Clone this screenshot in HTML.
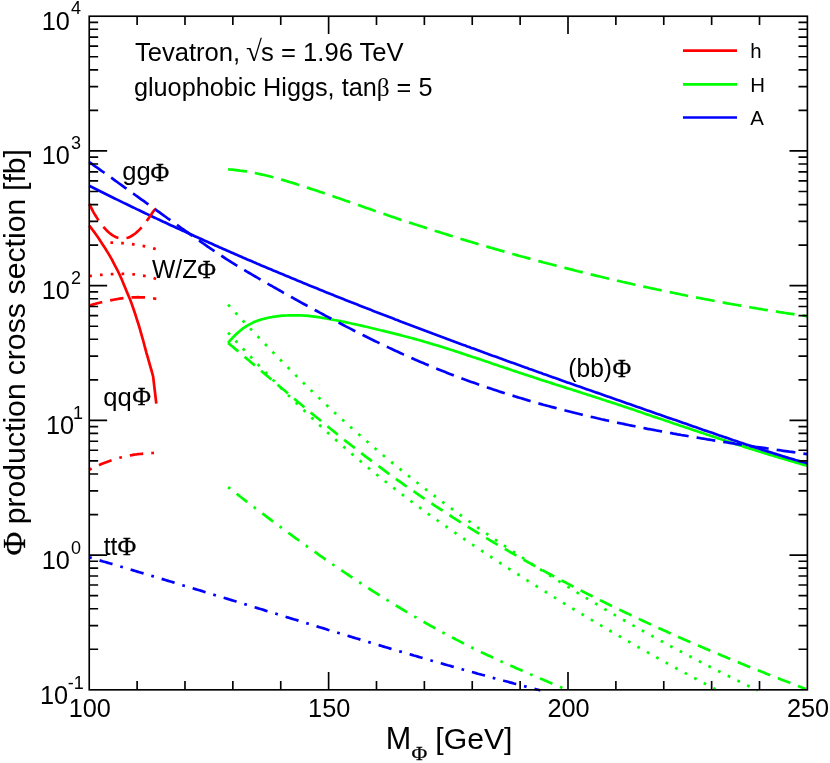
<!DOCTYPE html>
<html><head><meta charset="utf-8"><title>plot</title>
<style>html,body{margin:0;padding:0;background:#fff;}svg{display:block;will-change:transform;}</style>
</head><body>
<svg width="830" height="763" viewBox="0 0 830 763">
<rect x="0" y="0" width="830" height="763" fill="#ffffff"/>
<g fill="none" stroke-width="2.7" stroke-linejoin="miter">
<path d="M89.2,225.6 L90.9,227.6 L92.5,229.7 L94.1,231.9 L95.8,234.2 L97.4,236.5 L99.1,238.9 L100.7,241.4 L102.3,243.9 L104.0,246.5 L105.6,249.0 L107.2,251.6 L108.9,254.4 L110.5,257.2 L112.2,260.2 L113.8,263.3 L115.4,266.4 L117.1,269.5 L118.7,272.8 L120.3,276.3 L122.0,280.0 L123.6,283.9 L125.3,288.0 L126.9,291.9 L128.5,295.8 L130.2,299.8 L131.8,304.1 L133.4,308.8 L135.1,313.7 L136.7,318.8 L138.4,324.0 L140.0,329.4 L141.6,335.1 L143.3,341.0 L144.9,347.1 L146.5,353.1 L148.2,358.9 L149.8,364.7 L151.5,370.5 L153.1,376.4 L154.6,389.0 L156.3,403.6" stroke="#ff0000"/>
<path d="M228.1,342.9 L230.1,340.5 L232.1,338.3 L234.1,336.2 L236.1,334.2 L238.1,332.4 L240.1,330.7 L242.1,329.1 L244.1,327.7 L246.1,326.4 L248.1,325.2 L250.1,324.1 L252.1,323.1 L254.1,322.1 L256.1,321.3 L258.1,320.6 L260.1,319.9 L262.1,319.3 L264.2,318.7 L266.2,318.2 L268.2,317.7 L270.2,317.3 L272.2,317.0 L274.2,316.6 L276.2,316.4 L278.2,316.1 L280.2,315.9 L282.2,315.7 L284.2,315.6 L286.2,315.5 L288.2,315.4 L290.2,315.4 L292.2,315.3 L294.2,315.3 L296.2,315.3 L298.2,315.4 L300.2,315.4 L302.2,315.5 L304.2,315.6 L306.2,315.7 L308.3,315.9 L310.3,316.1 L312.3,316.3 L314.3,316.6 L316.3,316.9 L318.3,317.2 L320.3,317.5 L322.3,317.8 L324.3,318.2 L326.3,318.5 L328.3,318.9 L330.3,319.2 L332.3,319.6 L334.3,320.0 L336.3,320.3 L338.3,320.7 L340.3,321.1 L342.3,321.5 L344.3,321.9 L346.3,322.4 L348.3,322.8 L350.4,323.2 L352.4,323.7 L354.4,324.1 L356.4,324.5 L358.4,325.0 L360.4,325.4 L362.4,325.9 L364.4,326.4 L366.4,326.8 L368.4,327.3 L370.4,327.8 L372.4,328.2 L374.4,328.7 L376.4,329.2 L378.4,329.7 L380.4,330.2 L382.4,330.6 L384.4,331.1 L386.4,331.6 L388.4,332.1 L390.4,332.6 L392.4,333.1 L394.5,333.6 L396.5,334.1 L398.5,334.6 L400.5,335.1 L402.5,335.7 L404.5,336.2 L406.5,336.7 L408.5,337.2 L410.5,337.8 L412.5,338.3 L414.5,338.9 L416.5,339.4 L418.5,340.0 L420.5,340.5 L422.5,341.1 L424.5,341.7 L426.5,342.3 L428.5,342.9 L430.5,343.5 L432.5,344.1 L434.5,344.7 L436.5,345.3 L438.6,345.9 L440.6,346.5 L442.6,347.1 L444.6,347.8 L446.6,348.4 L448.6,349.0 L450.6,349.7 L452.6,350.3 L454.6,351.0 L456.6,351.6 L458.6,352.3 L460.6,352.9 L462.6,353.6 L464.6,354.2 L466.6,354.9 L468.6,355.6 L470.6,356.2 L472.6,356.9 L474.6,357.6 L476.6,358.3 L478.6,358.9 L480.6,359.6 L482.7,360.3 L484.7,361.0 L486.7,361.6 L488.7,362.3 L490.7,363.0 L492.7,363.7 L494.7,364.4 L496.7,365.0 L498.7,365.7 L500.7,366.4 L502.7,367.1 L504.7,367.8 L506.7,368.4 L508.7,369.1 L510.7,369.8 L512.7,370.5 L514.7,371.1 L516.7,371.8 L518.7,372.5 L520.7,373.1 L522.7,373.8 L524.8,374.5 L526.8,375.1 L528.8,375.8 L530.8,376.4 L532.8,377.1 L534.8,377.8 L536.8,378.4 L538.8,379.1 L540.8,379.7 L542.8,380.4 L544.8,381.0 L546.8,381.6 L548.8,382.3 L550.8,382.9 L552.8,383.6 L554.8,384.2 L556.8,384.9 L558.8,385.5 L560.8,386.1 L562.8,386.8 L564.8,387.4 L566.8,388.1 L568.9,388.7 L570.9,389.3 L572.9,390.0 L574.9,390.6 L576.9,391.3 L578.9,391.9 L580.9,392.5 L582.9,393.2 L584.9,393.8 L586.9,394.5 L588.9,395.1 L590.9,395.8 L592.9,396.4 L594.9,397.0 L596.9,397.7 L598.9,398.3 L600.9,399.0 L602.9,399.7 L604.9,400.3 L606.9,401.0 L608.9,401.6 L610.9,402.3 L613.0,402.9 L615.0,403.6 L617.0,404.3 L619.0,404.9 L621.0,405.6 L623.0,406.3 L625.0,406.9 L627.0,407.6 L629.0,408.3 L631.0,408.9 L633.0,409.6 L635.0,410.3 L637.0,411.0 L639.0,411.6 L641.0,412.3 L643.0,413.0 L645.0,413.7 L647.0,414.4 L649.0,415.0 L651.0,415.7 L653.0,416.4 L655.1,417.1 L657.1,417.7 L659.1,418.4 L661.1,419.1 L663.1,419.8 L665.1,420.5 L667.1,421.1 L669.1,421.8 L671.1,422.5 L673.1,423.2 L675.1,423.9 L677.1,424.5 L679.1,425.2 L681.1,425.9 L683.1,426.6 L685.1,427.3 L687.1,427.9 L689.1,428.6 L691.1,429.3 L693.1,430.0 L695.1,430.6 L697.1,431.3 L699.2,432.0 L701.2,432.6 L703.2,433.3 L705.2,434.0 L707.2,434.7 L709.2,435.3 L711.2,436.0 L713.2,436.6 L715.2,437.3 L717.2,438.0 L719.2,438.6 L721.2,439.3 L723.2,440.0 L725.2,440.6 L727.2,441.3 L729.2,441.9 L731.2,442.6 L733.2,443.2 L735.2,443.9 L737.2,444.5 L739.2,445.2 L741.2,445.8 L743.3,446.4 L745.3,447.1 L747.3,447.7 L749.3,448.4 L751.3,449.0 L753.3,449.6 L755.3,450.3 L757.3,450.9 L759.3,451.5 L761.3,452.1 L763.3,452.8 L765.3,453.4 L767.3,454.0 L769.3,454.6 L771.3,455.2 L773.3,455.8 L775.3,456.4 L777.3,457.0 L779.3,457.7 L781.3,458.3 L783.3,458.8 L785.3,459.4 L787.4,460.0 L789.4,460.6 L791.4,461.2 L793.4,461.8 L795.4,462.4 L797.4,463.0 L799.4,463.5 L801.4,464.1 L803.4,464.7 L805.4,465.2 L807.4,465.8" stroke="#00ff00"/>
<path d="M89.2,185.7 L91.2,186.7 L93.2,187.7 L95.2,188.7 L97.2,189.7 L99.2,190.7 L101.2,191.7 L103.2,192.7 L105.2,193.7 L107.2,194.7 L109.2,195.7 L111.2,196.7 L113.2,197.7 L115.2,198.7 L117.2,199.6 L119.2,200.6 L121.2,201.6 L123.2,202.6 L125.2,203.6 L127.2,204.5 L129.2,205.5 L131.2,206.5 L133.2,207.4 L135.2,208.4 L137.2,209.4 L139.2,210.3 L141.2,211.3 L143.2,212.2 L145.2,213.2 L147.2,214.1 L149.2,215.1 L151.2,216.0 L153.2,217.0 L155.2,217.9 L157.2,218.9 L159.2,219.8 L161.2,220.7 L163.2,221.7 L165.2,222.6 L167.2,223.5 L169.2,224.5 L171.2,225.4 L173.2,226.3 L175.3,227.3 L177.3,228.2 L179.3,229.1 L181.3,230.0 L183.3,230.9 L185.3,231.9 L187.3,232.8 L189.3,233.7 L191.3,234.6 L193.3,235.5 L195.3,236.4 L197.3,237.3 L199.3,238.2 L201.3,239.1 L203.3,240.0 L205.3,240.9 L207.3,241.8 L209.3,242.7 L211.3,243.6 L213.3,244.5 L215.3,245.4 L217.3,246.3 L219.3,247.2 L221.3,248.0 L223.3,248.9 L225.3,249.8 L227.3,250.7 L229.3,251.6 L231.3,252.4 L233.3,253.3 L235.3,254.2 L237.3,255.1 L239.3,255.9 L241.3,256.8 L243.3,257.7 L245.3,258.5 L247.3,259.4 L249.3,260.2 L251.3,261.1 L253.3,262.0 L255.3,262.8 L257.3,263.7 L259.3,264.5 L261.3,265.4 L263.3,266.2 L265.3,267.1 L267.3,267.9 L269.3,268.8 L271.3,269.6 L273.3,270.5 L275.3,271.3 L277.3,272.1 L279.3,273.0 L281.3,273.8 L283.3,274.6 L285.3,275.5 L287.3,276.3 L289.3,277.1 L291.3,278.0 L293.3,278.8 L295.3,279.6 L297.3,280.5 L299.3,281.3 L301.3,282.1 L303.3,282.9 L305.3,283.7 L307.3,284.6 L309.3,285.4 L311.3,286.2 L313.3,287.0 L315.3,287.8 L317.3,288.6 L319.3,289.5 L321.3,290.3 L323.3,291.1 L325.3,291.9 L327.3,292.7 L329.3,293.5 L331.3,294.3 L333.3,295.1 L335.3,295.9 L337.3,296.7 L339.3,297.5 L341.3,298.3 L343.3,299.1 L345.3,299.9 L347.3,300.7 L349.3,301.5 L351.3,302.3 L353.3,303.0 L355.3,303.8 L357.3,304.6 L359.3,305.4 L361.3,306.2 L363.3,307.0 L365.3,307.8 L367.3,308.5 L369.3,309.3 L371.3,310.1 L373.3,310.9 L375.3,311.7 L377.3,312.4 L379.3,313.2 L381.3,314.0 L383.3,314.8 L385.3,315.5 L387.3,316.3 L389.3,317.1 L391.3,317.8 L393.3,318.6 L395.3,319.4 L397.3,320.1 L399.3,320.9 L401.3,321.7 L403.3,322.4 L405.3,323.2 L407.3,324.0 L409.3,324.7 L411.3,325.5 L413.3,326.2 L415.3,327.0 L417.3,327.7 L419.3,328.5 L421.3,329.3 L423.3,330.0 L425.3,330.8 L427.3,331.5 L429.3,332.3 L431.3,333.0 L433.3,333.8 L435.3,334.5 L437.3,335.3 L439.3,336.0 L441.3,336.8 L443.3,337.5 L445.3,338.2 L447.3,339.0 L449.3,339.7 L451.3,340.5 L453.3,341.2 L455.3,342.0 L457.3,342.7 L459.3,343.4 L461.3,344.2 L463.3,344.9 L465.3,345.6 L467.3,346.4 L469.3,347.1 L471.3,347.9 L473.3,348.6 L475.3,349.3 L477.3,350.1 L479.3,350.8 L481.3,351.5 L483.3,352.2 L485.3,353.0 L487.3,353.7 L489.3,354.4 L491.3,355.2 L493.3,355.9 L495.3,356.6 L497.3,357.3 L499.3,358.1 L501.3,358.8 L503.3,359.5 L505.3,360.2 L507.3,361.0 L509.3,361.7 L511.3,362.4 L513.3,363.1 L515.3,363.8 L517.3,364.6 L519.3,365.3 L521.3,366.0 L523.3,366.7 L525.3,367.4 L527.3,368.1 L529.3,368.9 L531.3,369.6 L533.3,370.3 L535.3,371.0 L537.3,371.7 L539.3,372.4 L541.3,373.1 L543.3,373.9 L545.3,374.6 L547.3,375.3 L549.3,376.0 L551.3,376.7 L553.3,377.4 L555.3,378.1 L557.3,378.8 L559.3,379.5 L561.3,380.3 L563.3,381.0 L565.3,381.7 L567.3,382.4 L569.3,383.1 L571.3,383.8 L573.3,384.5 L575.3,385.2 L577.3,385.9 L579.3,386.6 L581.3,387.3 L583.3,388.0 L585.3,388.7 L587.3,389.4 L589.3,390.1 L591.3,390.8 L593.3,391.5 L595.3,392.2 L597.4,392.9 L599.4,393.6 L601.4,394.3 L603.4,395.0 L605.4,395.7 L607.4,396.4 L609.4,397.1 L611.4,397.8 L613.4,398.5 L615.4,399.2 L617.4,399.9 L619.4,400.6 L621.4,401.3 L623.4,402.0 L625.4,402.7 L627.4,403.4 L629.4,404.1 L631.4,404.8 L633.4,405.5 L635.4,406.2 L637.4,406.9 L639.4,407.6 L641.4,408.3 L643.4,409.0 L645.4,409.7 L647.4,410.4 L649.4,411.1 L651.4,411.8 L653.4,412.5 L655.4,413.2 L657.4,413.9 L659.4,414.6 L661.4,415.3 L663.4,416.0 L665.4,416.7 L667.4,417.4 L669.4,418.1 L671.4,418.7 L673.4,419.4 L675.4,420.1 L677.4,420.8 L679.4,421.5 L681.4,422.2 L683.4,422.9 L685.4,423.6 L687.4,424.3 L689.4,425.0 L691.4,425.7 L693.4,426.4 L695.4,427.1 L697.4,427.8 L699.4,428.5 L701.4,429.2 L703.4,429.9 L705.4,430.6 L707.4,431.2 L709.4,431.9 L711.4,432.6 L713.4,433.3 L715.4,434.0 L717.4,434.7 L719.4,435.4 L721.4,436.1 L723.4,436.8 L725.4,437.4 L727.4,438.1 L729.4,438.8 L731.4,439.5 L733.4,440.2 L735.4,440.8 L737.4,441.5 L739.4,442.2 L741.4,442.9 L743.4,443.5 L745.4,444.2 L747.4,444.9 L749.4,445.5 L751.4,446.2 L753.4,446.8 L755.4,447.5 L757.4,448.1 L759.4,448.8 L761.4,449.4 L763.4,450.1 L765.4,450.7 L767.4,451.4 L769.4,452.0 L771.4,452.6 L773.4,453.3 L775.4,453.9 L777.4,454.5 L779.4,455.1 L781.4,455.7 L783.4,456.4 L785.4,457.0 L787.4,457.6 L789.4,458.2 L791.4,458.8 L793.4,459.4 L795.4,460.0 L797.4,460.5 L799.4,461.1 L801.4,461.7 L803.4,462.3 L805.4,462.8 L807.4,463.4" stroke="#0000ff"/>
<path d="M89.2,204.0 L91.3,208.0 L93.3,211.8 L95.3,215.3 L97.4,218.6 L99.4,221.6 L101.4,224.4 L103.4,226.9 L105.5,229.2 L107.5,231.3 L109.5,233.0 L111.6,234.6 L113.6,235.9 L115.6,236.9 L117.7,237.7 L119.7,238.2 L121.7,238.5 L123.8,238.5 L125.8,238.2 L127.8,237.7 L129.9,236.9 L131.9,235.8 L133.9,234.5 L135.9,233.0 L138.0,231.1 L140.0,229.1 L142.0,226.9 L144.1,224.4 L146.1,221.8 L148.1,219.0 L150.2,216.0 L152.2,213.0 L154.2,210.2 L156.3,208.6" stroke="#ff0000" stroke-dasharray="18.90 8.10"/>
<path d="M228.1,169.4 L230.1,169.5 L232.1,169.7 L234.1,169.9 L236.1,170.1 L238.1,170.3 L240.1,170.6 L242.1,170.8 L244.1,171.1 L246.1,171.4 L248.1,171.8 L250.1,172.1 L252.1,172.5 L254.1,172.9 L256.1,173.3 L258.1,173.7 L260.1,174.1 L262.1,174.6 L264.2,175.0 L266.2,175.5 L268.2,176.0 L270.2,176.5 L272.2,177.0 L274.2,177.6 L276.2,178.1 L278.2,178.7 L280.2,179.2 L282.2,179.8 L284.2,180.4 L286.2,181.0 L288.2,181.6 L290.2,182.2 L292.2,182.8 L294.2,183.4 L296.2,184.0 L298.2,184.7 L300.2,185.3 L302.2,185.9 L304.2,186.6 L306.2,187.2 L308.3,187.9 L310.3,188.6 L312.3,189.2 L314.3,189.9 L316.3,190.5 L318.3,191.2 L320.3,191.9 L322.3,192.6 L324.3,193.3 L326.3,193.9 L328.3,194.6 L330.3,195.3 L332.3,196.0 L334.3,196.7 L336.3,197.4 L338.3,198.1 L340.3,198.8 L342.3,199.5 L344.3,200.2 L346.3,200.9 L348.3,201.6 L350.4,202.3 L352.4,203.0 L354.4,203.7 L356.4,204.4 L358.4,205.1 L360.4,205.8 L362.4,206.5 L364.4,207.2 L366.4,207.9 L368.4,208.6 L370.4,209.3 L372.4,210.0 L374.4,210.7 L376.4,211.4 L378.4,212.1 L380.4,212.8 L382.4,213.5 L384.4,214.1 L386.4,214.8 L388.4,215.5 L390.4,216.2 L392.4,216.9 L394.5,217.5 L396.5,218.2 L398.5,218.9 L400.5,219.6 L402.5,220.2 L404.5,220.9 L406.5,221.6 L408.5,222.2 L410.5,222.9 L412.5,223.5 L414.5,224.2 L416.5,224.8 L418.5,225.5 L420.5,226.1 L422.5,226.8 L424.5,227.4 L426.5,228.1 L428.5,228.7 L430.5,229.4 L432.5,230.0 L434.5,230.6 L436.5,231.3 L438.6,231.9 L440.6,232.5 L442.6,233.2 L444.6,233.8 L446.6,234.4 L448.6,235.1 L450.6,235.7 L452.6,236.3 L454.6,236.9 L456.6,237.5 L458.6,238.1 L460.6,238.7 L462.6,239.4 L464.6,240.0 L466.6,240.6 L468.6,241.2 L470.6,241.8 L472.6,242.4 L474.6,243.0 L476.6,243.6 L478.6,244.2 L480.6,244.8 L482.7,245.3 L484.7,245.9 L486.7,246.5 L488.7,247.1 L490.7,247.7 L492.7,248.3 L494.7,248.9 L496.7,249.4 L498.7,250.0 L500.7,250.6 L502.7,251.1 L504.7,251.7 L506.7,252.3 L508.7,252.9 L510.7,253.4 L512.7,254.0 L514.7,254.5 L516.7,255.1 L518.7,255.7 L520.7,256.2 L522.7,256.8 L524.8,257.3 L526.8,257.9 L528.8,258.4 L530.8,258.9 L532.8,259.5 L534.8,260.0 L536.8,260.6 L538.8,261.1 L540.8,261.6 L542.8,262.2 L544.8,262.7 L546.8,263.2 L548.8,263.8 L550.8,264.3 L552.8,264.8 L554.8,265.3 L556.8,265.9 L558.8,266.4 L560.8,266.9 L562.8,267.4 L564.8,267.9 L566.8,268.4 L568.9,268.9 L570.9,269.4 L572.9,269.9 L574.9,270.5 L576.9,271.0 L578.9,271.5 L580.9,271.9 L582.9,272.4 L584.9,272.9 L586.9,273.4 L588.9,273.9 L590.9,274.4 L592.9,274.9 L594.9,275.4 L596.9,275.9 L598.9,276.3 L600.9,276.8 L602.9,277.3 L604.9,277.8 L606.9,278.2 L608.9,278.7 L610.9,279.2 L613.0,279.7 L615.0,280.1 L617.0,280.6 L619.0,281.0 L621.0,281.5 L623.0,282.0 L625.0,282.4 L627.0,282.9 L629.0,283.3 L631.0,283.8 L633.0,284.2 L635.0,284.7 L637.0,285.1 L639.0,285.6 L641.0,286.0 L643.0,286.4 L645.0,286.9 L647.0,287.3 L649.0,287.8 L651.0,288.2 L653.0,288.6 L655.1,289.0 L657.1,289.5 L659.1,289.9 L661.1,290.3 L663.1,290.7 L665.1,291.2 L667.1,291.6 L669.1,292.0 L671.1,292.4 L673.1,292.8 L675.1,293.2 L677.1,293.6 L679.1,294.0 L681.1,294.5 L683.1,294.9 L685.1,295.3 L687.1,295.7 L689.1,296.1 L691.1,296.4 L693.1,296.8 L695.1,297.2 L697.1,297.6 L699.2,298.0 L701.2,298.4 L703.2,298.8 L705.2,299.2 L707.2,299.5 L709.2,299.9 L711.2,300.3 L713.2,300.7 L715.2,301.1 L717.2,301.4 L719.2,301.8 L721.2,302.2 L723.2,302.5 L725.2,302.9 L727.2,303.3 L729.2,303.6 L731.2,304.0 L733.2,304.3 L735.2,304.7 L737.2,305.0 L739.2,305.4 L741.2,305.7 L743.3,306.1 L745.3,306.4 L747.3,306.8 L749.3,307.1 L751.3,307.5 L753.3,307.8 L755.3,308.1 L757.3,308.5 L759.3,308.8 L761.3,309.1 L763.3,309.5 L765.3,309.8 L767.3,310.1 L769.3,310.5 L771.3,310.8 L773.3,311.1 L775.3,311.4 L777.3,311.7 L779.3,312.1 L781.3,312.4 L783.3,312.7 L785.3,313.0 L787.4,313.3 L789.4,313.6 L791.4,313.9 L793.4,314.2 L795.4,314.5 L797.4,314.8 L799.4,315.1 L801.4,315.4 L803.4,315.7 L805.4,316.0 L807.4,316.3" stroke="#00ff00" stroke-dasharray="18.90 8.10"/>
<path d="M89.2,162.0 L91.2,163.4 L93.2,164.8 L95.2,166.3 L97.2,167.7 L99.2,169.1 L101.2,170.6 L103.2,172.0 L105.2,173.4 L107.2,174.8 L109.2,176.3 L111.2,177.7 L113.2,179.1 L115.2,180.6 L117.2,182.0 L119.2,183.5 L121.2,184.9 L123.2,186.3 L125.2,187.8 L127.2,189.2 L129.2,190.6 L131.2,192.1 L133.2,193.5 L135.2,195.0 L137.2,196.4 L139.2,197.8 L141.2,199.3 L143.2,200.7 L145.2,202.2 L147.2,203.6 L149.2,205.0 L151.2,206.5 L153.2,207.9 L155.2,209.4 L157.2,210.8 L159.2,212.2 L161.2,213.7 L163.2,215.1 L165.2,216.5 L167.2,218.0 L169.2,219.4 L171.2,220.8 L173.2,222.3 L175.3,223.7 L177.3,225.1 L179.3,226.5 L181.3,228.0 L183.3,229.4 L185.3,230.8 L187.3,232.2 L189.3,233.7 L191.3,235.1 L193.3,236.5 L195.3,237.9 L197.3,239.3 L199.3,240.7 L201.3,242.1 L203.3,243.5 L205.3,244.9 L207.3,246.3 L209.3,247.7 L211.3,249.0 L213.3,250.4 L215.3,251.7 L217.3,253.1 L219.3,254.4 L221.3,255.7 L223.3,257.0 L225.3,258.3 L227.3,259.6 L229.3,260.8 L231.3,262.1 L233.3,263.3 L235.3,264.6 L237.3,265.8 L239.3,267.0 L241.3,268.2 L243.3,269.4 L245.3,270.6 L247.3,271.8 L249.3,273.0 L251.3,274.2 L253.3,275.3 L255.3,276.5 L257.3,277.7 L259.3,278.8 L261.3,280.0 L263.3,281.1 L265.3,282.3 L267.3,283.5 L269.3,284.6 L271.3,285.7 L273.3,286.9 L275.3,288.0 L277.3,289.2 L279.3,290.3 L281.3,291.4 L283.3,292.6 L285.3,293.7 L287.3,294.8 L289.3,295.9 L291.3,297.0 L293.3,298.2 L295.3,299.3 L297.3,300.4 L299.3,301.5 L301.3,302.6 L303.3,303.7 L305.3,304.8 L307.3,305.9 L309.3,307.0 L311.3,308.0 L313.3,309.1 L315.3,310.2 L317.3,311.3 L319.3,312.4 L321.3,313.4 L323.3,314.5 L325.3,315.6 L327.3,316.6 L329.3,317.7 L331.3,318.8 L333.3,319.8 L335.3,320.9 L337.3,321.9 L339.3,322.9 L341.3,324.0 L343.3,325.0 L345.3,326.1 L347.3,327.1 L349.3,328.1 L351.3,329.1 L353.3,330.2 L355.3,331.2 L357.3,332.2 L359.3,333.2 L361.3,334.2 L363.3,335.2 L365.3,336.2 L367.3,337.2 L369.3,338.2 L371.3,339.2 L373.3,340.2 L375.3,341.2 L377.3,342.1 L379.3,343.1 L381.3,344.1 L383.3,345.0 L385.3,346.0 L387.3,346.9 L389.3,347.9 L391.3,348.8 L393.3,349.8 L395.3,350.7 L397.3,351.6 L399.3,352.5 L401.3,353.4 L403.3,354.4 L405.3,355.3 L407.3,356.2 L409.3,357.1 L411.3,357.9 L413.3,358.8 L415.3,359.7 L417.3,360.6 L419.3,361.4 L421.3,362.3 L423.3,363.1 L425.3,364.0 L427.3,364.8 L429.3,365.6 L431.3,366.5 L433.3,367.3 L435.3,368.1 L437.3,368.9 L439.3,369.7 L441.3,370.5 L443.3,371.3 L445.3,372.1 L447.3,372.9 L449.3,373.7 L451.3,374.4 L453.3,375.2 L455.3,376.0 L457.3,376.7 L459.3,377.5 L461.3,378.2 L463.3,379.0 L465.3,379.7 L467.3,380.4 L469.3,381.2 L471.3,381.9 L473.3,382.6 L475.3,383.3 L477.3,384.0 L479.3,384.7 L481.3,385.4 L483.3,386.1 L485.3,386.8 L487.3,387.5 L489.3,388.1 L491.3,388.8 L493.3,389.5 L495.3,390.1 L497.3,390.8 L499.3,391.5 L501.3,392.1 L503.3,392.7 L505.3,393.4 L507.3,394.0 L509.3,394.6 L511.3,395.3 L513.3,395.9 L515.3,396.5 L517.3,397.1 L519.3,397.7 L521.3,398.3 L523.3,398.9 L525.3,399.5 L527.3,400.1 L529.3,400.7 L531.3,401.3 L533.3,401.8 L535.3,402.4 L537.3,403.0 L539.3,403.6 L541.3,404.1 L543.3,404.7 L545.3,405.2 L547.3,405.8 L549.3,406.3 L551.3,406.9 L553.3,407.4 L555.3,407.9 L557.3,408.5 L559.3,409.0 L561.3,409.5 L563.3,410.0 L565.3,410.5 L567.3,411.0 L569.3,411.5 L571.3,412.0 L573.3,412.5 L575.3,413.0 L577.3,413.5 L579.3,414.0 L581.3,414.5 L583.3,415.0 L585.3,415.5 L587.3,415.9 L589.3,416.4 L591.3,416.9 L593.3,417.3 L595.3,417.8 L597.4,418.3 L599.4,418.7 L601.4,419.2 L603.4,419.6 L605.4,420.1 L607.4,420.5 L609.4,421.0 L611.4,421.4 L613.4,421.8 L615.4,422.3 L617.4,422.7 L619.4,423.1 L621.4,423.5 L623.4,423.9 L625.4,424.4 L627.4,424.8 L629.4,425.2 L631.4,425.6 L633.4,426.0 L635.4,426.4 L637.4,426.8 L639.4,427.2 L641.4,427.6 L643.4,428.0 L645.4,428.4 L647.4,428.8 L649.4,429.1 L651.4,429.5 L653.4,429.9 L655.4,430.3 L657.4,430.7 L659.4,431.0 L661.4,431.4 L663.4,431.8 L665.4,432.1 L667.4,432.5 L669.4,432.9 L671.4,433.2 L673.4,433.6 L675.4,433.9 L677.4,434.3 L679.4,434.6 L681.4,435.0 L683.4,435.3 L685.4,435.7 L687.4,436.0 L689.4,436.4 L691.4,436.7 L693.4,437.0 L695.4,437.4 L697.4,437.7 L699.4,438.0 L701.4,438.4 L703.4,438.7 L705.4,439.0 L707.4,439.4 L709.4,439.7 L711.4,440.0 L713.4,440.3 L715.4,440.6 L717.4,441.0 L719.4,441.3 L721.4,441.6 L723.4,441.9 L725.4,442.2 L727.4,442.5 L729.4,442.8 L731.4,443.1 L733.4,443.4 L735.4,443.8 L737.4,444.1 L739.4,444.4 L741.4,444.7 L743.4,445.0 L745.4,445.3 L747.4,445.6 L749.4,445.9 L751.4,446.2 L753.4,446.5 L755.4,446.8 L757.4,447.0 L759.4,447.3 L761.4,447.6 L763.4,447.9 L765.4,448.2 L767.4,448.5 L769.4,448.8 L771.4,449.1 L773.4,449.4 L775.4,449.7 L777.4,450.0 L779.4,450.2 L781.4,450.5 L783.4,450.8 L785.4,451.1 L787.4,451.4 L789.4,451.7 L791.4,451.9 L793.4,452.2 L795.4,452.5 L797.4,452.8 L799.4,453.1 L801.4,453.4 L803.4,453.6 L805.4,453.9 L807.4,454.2" stroke="#0000ff" stroke-dasharray="18.90 8.10"/>
<path d="M89.2,557.3 L91.2,557.9 L93.2,558.5 L95.2,559.1 L97.2,559.7 L99.2,560.3 L101.2,560.9 L103.3,561.5 L105.3,562.0 L107.3,562.6 L109.3,563.2 L111.3,563.8 L113.3,564.4 L115.3,565.0 L117.3,565.6 L119.3,566.2 L121.3,566.8 L123.3,567.4 L125.3,568.0 L127.3,568.6 L129.3,569.2 L131.3,569.8 L133.3,570.4 L135.3,571.0 L137.3,571.6 L139.3,572.2 L141.3,572.8 L143.3,573.4 L145.3,574.0 L147.3,574.6 L149.3,575.2 L151.3,575.8 L153.3,576.4 L155.3,577.0 L157.3,577.6 L159.3,578.2 L161.3,578.8 L163.4,579.4 L165.4,580.0 L167.4,580.6 L169.4,581.2 L171.4,581.8 L173.4,582.4 L175.4,583.0 L177.4,583.6 L179.4,584.3 L181.4,584.9 L183.4,585.5 L185.4,586.1 L187.4,586.7 L189.4,587.3 L191.4,587.9 L193.4,588.5 L195.4,589.1 L197.4,589.7 L199.4,590.3 L201.4,590.9 L203.4,591.5 L205.4,592.2 L207.4,592.8 L209.4,593.4 L211.4,594.0 L213.4,594.6 L215.4,595.2 L217.4,595.8 L219.4,596.4 L221.4,597.0 L223.4,597.7 L225.5,598.3 L227.5,598.9 L229.5,599.5 L231.5,600.1 L233.5,600.7 L235.5,601.3 L237.5,602.0 L239.5,602.6 L241.5,603.2 L243.5,603.8 L245.5,604.4 L247.5,605.0 L249.5,605.6 L251.5,606.3 L253.5,606.9 L255.5,607.5 L257.5,608.1 L259.5,608.7 L261.5,609.3 L263.5,609.9 L265.5,610.6 L267.5,611.2 L269.5,611.8 L271.5,612.4 L273.5,613.0 L275.5,613.6 L277.5,614.3 L279.5,614.9 L281.5,615.5 L283.5,616.1 L285.6,616.7 L287.6,617.4 L289.6,618.0 L291.6,618.6 L293.6,619.2 L295.6,619.8 L297.6,620.4 L299.6,621.1 L301.6,621.7 L303.6,622.3 L305.6,622.9 L307.6,623.5 L309.6,624.1 L311.6,624.7 L313.6,625.4 L315.6,626.0 L317.6,626.6 L319.6,627.2 L321.6,627.8 L323.6,628.4 L325.6,629.0 L327.6,629.7 L329.6,630.3 L331.6,630.9 L333.6,631.5 L335.6,632.1 L337.6,632.7 L339.6,633.3 L341.6,633.9 L343.6,634.5 L345.6,635.2 L347.7,635.8 L349.7,636.4 L351.7,637.0 L353.7,637.6 L355.7,638.2 L357.7,638.8 L359.7,639.4 L361.7,640.0 L363.7,640.6 L365.7,641.2 L367.7,641.8 L369.7,642.4 L371.7,643.0 L373.7,643.6 L375.7,644.2 L377.7,644.8 L379.7,645.4 L381.7,646.0 L383.7,646.6 L385.7,647.2 L387.7,647.8 L389.7,648.4 L391.7,649.0 L393.7,649.6 L395.7,650.2 L397.7,650.8 L399.7,651.4 L401.7,651.9 L403.7,652.5 L405.7,653.1 L407.8,653.7 L409.8,654.3 L411.8,654.9 L413.8,655.5 L415.8,656.0 L417.8,656.6 L419.8,657.2 L421.8,657.8 L423.8,658.4 L425.8,658.9 L427.8,659.5 L429.8,660.1 L431.8,660.7 L433.8,661.3 L435.8,661.8 L437.8,662.4 L439.8,663.0 L441.8,663.5 L443.8,664.1 L445.8,664.7 L447.8,665.3 L449.8,665.8 L451.8,666.4 L453.8,666.9 L455.8,667.5 L457.8,668.1 L459.8,668.6 L461.8,669.2 L463.8,669.8 L465.8,670.3 L467.8,670.9 L469.9,671.4 L471.9,672.0 L473.9,672.5 L475.9,673.1 L477.9,673.7 L479.9,674.2 L481.9,674.8 L483.9,675.3 L485.9,675.9 L487.9,676.4 L489.9,677.0 L491.9,677.5 L493.9,678.1 L495.9,678.6 L497.9,679.1 L499.9,679.7 L501.9,680.2 L503.9,680.8 L505.9,681.3 L507.9,681.8 L509.9,682.4 L511.9,682.9 L513.9,683.5 L515.9,684.0 L517.9,684.5 L519.9,685.1 L521.9,685.6 L523.9,686.1 L525.9,686.6 L527.9,687.2 L530.0,687.7 L532.0,688.2 L534.0,688.8 L536.0,689.3 L538.0,689.8 L540.0,690.3 L540.4,690.4" stroke="#0000ff" stroke-dasharray="2.70 8.10 13.50 8.10"/>
<path d="M228.1,342.9 L230.1,344.6 L232.1,346.3 L234.1,347.9 L236.1,349.6 L238.1,351.3 L240.1,353.0 L242.1,354.7 L244.1,356.4 L246.1,358.1 L248.1,359.8 L250.1,361.5 L252.1,363.2 L254.2,364.9 L256.2,366.6 L258.2,368.3 L260.2,370.0 L262.2,371.7 L264.2,373.4 L266.2,375.1 L268.2,376.8 L270.2,378.5 L272.2,380.2 L274.2,381.9 L276.2,383.6 L278.2,385.3 L280.2,387.0 L282.2,388.7 L284.3,390.3 L286.3,392.0 L288.3,393.7 L290.3,395.4 L292.3,397.1 L294.3,398.8 L296.3,400.5 L298.3,402.2 L300.3,403.8 L302.3,405.5 L304.3,407.2 L306.3,408.9 L308.3,410.5 L310.3,412.2 L312.3,413.9 L314.3,415.5 L316.4,417.2 L318.4,418.8 L320.4,420.5 L322.4,422.1 L324.4,423.8 L326.4,425.4 L328.4,427.0 L330.4,428.7 L332.4,430.3 L334.4,431.9 L336.4,433.5 L338.4,435.2 L340.4,436.8 L342.4,438.4 L344.4,440.0 L346.4,441.6 L348.5,443.1 L350.5,444.7 L352.5,446.3 L354.5,447.9 L356.5,449.4 L358.5,451.0 L360.5,452.5 L362.5,454.1 L364.5,455.6 L366.5,457.2 L368.5,458.7 L370.5,460.2 L372.5,461.7 L374.5,463.2 L376.5,464.7 L378.6,466.2 L380.6,467.7 L382.6,469.2 L384.6,470.7 L386.6,472.1 L388.6,473.6 L390.6,475.0 L392.6,476.5 L394.6,477.9 L396.6,479.4 L398.6,480.8 L400.6,482.2 L402.6,483.6 L404.6,485.1 L406.6,486.5 L408.6,487.9 L410.7,489.3 L412.7,490.7 L414.7,492.0 L416.7,493.4 L418.7,494.8 L420.7,496.2 L422.7,497.5 L424.7,498.9 L426.7,500.2 L428.7,501.6 L430.7,502.9 L432.7,504.2 L434.7,505.6 L436.7,506.9 L438.7,508.2 L440.8,509.5 L442.8,510.8 L444.8,512.1 L446.8,513.4 L448.8,514.7 L450.8,516.0 L452.8,517.3 L454.8,518.6 L456.8,519.8 L458.8,521.1 L460.8,522.4 L462.8,523.6 L464.8,524.9 L466.8,526.1 L468.8,527.4 L470.8,528.6 L472.9,529.9 L474.9,531.1 L476.9,532.3 L478.9,533.5 L480.9,534.8 L482.9,536.0 L484.9,537.2 L486.9,538.4 L488.9,539.6 L490.9,540.8 L492.9,542.0 L494.9,543.2 L496.9,544.3 L498.9,545.5 L500.9,546.7 L503.0,547.9 L505.0,549.0 L507.0,550.2 L509.0,551.4 L511.0,552.5 L513.0,553.7 L515.0,554.8 L517.0,556.0 L519.0,557.1 L521.0,558.2 L523.0,559.4 L525.0,560.5 L527.0,561.6 L529.0,562.7 L531.0,563.9 L533.0,565.0 L535.1,566.1 L537.1,567.2 L539.1,568.3 L541.1,569.4 L543.1,570.5 L545.1,571.6 L547.1,572.7 L549.1,573.8 L551.1,574.8 L553.1,575.9 L555.1,577.0 L557.1,578.1 L559.1,579.1 L561.1,580.2 L563.1,581.2 L565.2,582.3 L567.2,583.4 L569.2,584.4 L571.2,585.5 L573.2,586.5 L575.2,587.5 L577.2,588.6 L579.2,589.6 L581.2,590.6 L583.2,591.7 L585.2,592.7 L587.2,593.7 L589.2,594.7 L591.2,595.7 L593.2,596.7 L595.2,597.8 L597.3,598.8 L599.3,599.8 L601.3,600.8 L603.3,601.8 L605.3,602.7 L607.3,603.7 L609.3,604.7 L611.3,605.7 L613.3,606.7 L615.3,607.7 L617.3,608.6 L619.3,609.6 L621.3,610.6 L623.3,611.5 L625.3,612.5 L627.4,613.4 L629.4,614.4 L631.4,615.4 L633.4,616.3 L635.4,617.3 L637.4,618.2 L639.4,619.1 L641.4,620.1 L643.4,621.0 L645.4,621.9 L647.4,622.9 L649.4,623.8 L651.4,624.7 L653.4,625.6 L655.4,626.6 L657.4,627.5 L659.5,628.4 L661.5,629.3 L663.5,630.2 L665.5,631.1 L667.5,632.0 L669.5,632.9 L671.5,633.8 L673.5,634.7 L675.5,635.6 L677.5,636.5 L679.5,637.4 L681.5,638.3 L683.5,639.2 L685.5,640.0 L687.5,640.9 L689.5,641.8 L691.6,642.7 L693.6,643.5 L695.6,644.4 L697.6,645.3 L699.6,646.1 L701.6,647.0 L703.6,647.8 L705.6,648.7 L707.6,649.6 L709.6,650.4 L711.6,651.3 L713.6,652.1 L715.6,652.9 L717.6,653.8 L719.6,654.6 L721.7,655.5 L723.7,656.3 L725.7,657.1 L727.7,658.0 L729.7,658.8 L731.7,659.6 L733.7,660.5 L735.7,661.3 L737.7,662.1 L739.7,662.9 L741.7,663.7 L743.7,664.6 L745.7,665.4 L747.7,666.2 L749.7,667.0 L751.7,667.8 L753.8,668.6 L755.8,669.4 L757.8,670.2 L759.8,671.0 L761.8,671.8 L763.8,672.6 L765.8,673.4 L767.8,674.2 L769.8,675.0 L771.8,675.8 L773.8,676.6 L775.8,677.4 L777.8,678.1 L779.8,678.9 L781.8,679.7 L783.9,680.5 L785.9,681.3 L787.9,682.0 L789.9,682.8 L791.9,683.6 L793.9,684.4 L795.9,685.1 L797.9,685.9 L799.9,686.7 L801.9,687.4 L803.9,688.2 L805.9,689.0" stroke="#00ff00" stroke-dasharray="13.50 8.10"/>
<path d="M228.1,304.6 L230.1,306.8 L232.1,309.0 L234.1,311.1 L236.1,313.3 L238.1,315.5 L240.1,317.6 L242.1,319.8 L244.1,322.0 L246.1,324.1 L248.1,326.2 L250.1,328.4 L252.2,330.5 L254.2,332.6 L256.2,334.8 L258.2,336.9 L260.2,339.0 L262.2,341.1 L264.2,343.2 L266.2,345.3 L268.2,347.3 L270.2,349.4 L272.2,351.5 L274.2,353.6 L276.2,355.6 L278.2,357.7 L280.3,359.7 L282.3,361.8 L284.3,363.8 L286.3,365.8 L288.3,367.8 L290.3,369.9 L292.3,371.9 L294.3,373.9 L296.3,375.9 L298.3,377.8 L300.3,379.8 L302.3,381.8 L304.3,383.8 L306.3,385.7 L308.4,387.7 L310.4,389.6 L312.4,391.6 L314.4,393.5 L316.4,395.4 L318.4,397.3 L320.4,399.3 L322.4,401.2 L324.4,403.1 L326.4,404.9 L328.4,406.8 L330.4,408.7 L332.4,410.6 L334.4,412.4 L336.4,414.3 L338.5,416.1 L340.5,418.0 L342.5,419.8 L344.5,421.6 L346.5,423.4 L348.5,425.2 L350.5,427.0 L352.5,428.8 L354.5,430.6 L356.5,432.4 L358.5,434.1 L360.5,435.9 L362.5,437.7 L364.5,439.4 L366.6,441.1 L368.6,442.9 L370.6,444.6 L372.6,446.3 L374.6,448.0 L376.6,449.7 L378.6,451.4 L380.6,453.1 L382.6,454.8 L384.6,456.5 L386.6,458.1 L388.6,459.8 L390.6,461.4 L392.6,463.1 L394.7,464.7 L396.7,466.4 L398.7,468.0 L400.7,469.6 L402.7,471.2 L404.7,472.8 L406.7,474.4 L408.7,476.0 L410.7,477.6 L412.7,479.2 L414.7,480.8 L416.7,482.3 L418.7,483.9 L420.7,485.5 L422.8,487.0 L424.8,488.5 L426.8,490.1 L428.8,491.6 L430.8,493.2 L432.8,494.7 L434.8,496.2 L436.8,497.7 L438.8,499.2 L440.8,500.7 L442.8,502.2 L444.8,503.7 L446.8,505.2 L448.8,506.7 L450.8,508.1 L452.9,509.6 L454.9,511.1 L456.9,512.5 L458.9,514.0 L460.9,515.4 L462.9,516.9 L464.9,518.3 L466.9,519.8 L468.9,521.2 L470.9,522.6 L472.9,524.0 L474.9,525.5 L476.9,526.9 L478.9,528.3 L481.0,529.7 L483.0,531.1 L485.0,532.5 L487.0,533.9 L489.0,535.3 L491.0,536.6 L493.0,538.0 L495.0,539.4 L497.0,540.8 L499.0,542.1 L501.0,543.5 L503.0,544.9 L505.0,546.2 L507.0,547.6 L509.1,548.9 L511.1,550.3 L513.1,551.6 L515.1,552.9 L517.1,554.3 L519.1,555.6 L521.1,556.9 L523.1,558.2 L525.1,559.6 L527.1,560.9 L529.1,562.2 L531.1,563.5 L533.1,564.8 L535.1,566.1 L537.2,567.4 L539.2,568.7 L541.2,570.0 L543.2,571.3 L545.2,572.6 L547.2,573.8 L549.2,575.1 L551.2,576.4 L553.2,577.7 L555.2,578.9 L557.2,580.2 L559.2,581.4 L561.2,582.7 L563.2,584.0 L565.2,585.2 L567.3,586.5 L569.3,587.7 L571.3,588.9 L573.3,590.2 L575.3,591.4 L577.3,592.6 L579.3,593.8 L581.3,595.1 L583.3,596.3 L585.3,597.5 L587.3,598.7 L589.3,599.9 L591.3,601.1 L593.3,602.3 L595.4,603.5 L597.4,604.7 L599.4,605.9 L601.4,607.1 L603.4,608.3 L605.4,609.5 L607.4,610.6 L609.4,611.8 L611.4,613.0 L613.4,614.2 L615.4,615.3 L617.4,616.5 L619.4,617.7 L621.4,618.8 L623.5,620.0 L625.5,621.1 L627.5,622.3 L629.5,623.4 L631.5,624.5 L633.5,625.7 L635.5,626.8 L637.5,627.9 L639.5,629.1 L641.5,630.2 L643.5,631.3 L645.5,632.4 L647.5,633.6 L649.5,634.7 L651.6,635.8 L653.6,636.9 L655.6,638.0 L657.6,639.1 L659.6,640.2 L661.6,641.3 L663.6,642.4 L665.6,643.5 L667.6,644.5 L669.6,645.6 L671.6,646.7 L673.6,647.8 L675.6,648.9 L677.6,649.9 L679.6,651.0 L681.7,652.1 L683.7,653.1 L685.7,654.2 L687.7,655.3 L689.7,656.3 L691.7,657.4 L693.7,658.4 L695.7,659.5 L697.7,660.5 L699.7,661.5 L701.7,662.6 L703.7,663.6 L705.7,664.6 L707.7,665.7 L709.8,666.7 L711.8,667.7 L713.8,668.7 L715.8,669.8 L717.8,670.8 L719.8,671.8 L721.8,672.8 L723.8,673.8 L725.8,674.8 L727.8,675.8 L729.8,676.8 L731.8,677.8 L733.8,678.8 L735.8,679.8 L737.9,680.8 L739.9,681.8 L741.9,682.8 L743.9,683.7 L745.9,684.7 L747.9,685.7 L749.9,686.7 L751.9,687.7 L753.9,688.6 L755.9,689.6 L757.7,690.4" stroke="#00ff00" stroke-dasharray="2.70 8.10"/>
<path d="M228.1,332.7 L230.1,334.9 L232.1,337.0 L234.1,339.2 L236.1,341.3 L238.1,343.5 L240.1,345.6 L242.1,347.7 L244.1,349.9 L246.1,352.0 L248.1,354.1 L250.2,356.2 L252.2,358.3 L254.2,360.4 L256.2,362.5 L258.2,364.6 L260.2,366.7 L262.2,368.8 L264.2,370.8 L266.2,372.9 L268.2,375.0 L270.2,377.0 L272.2,379.1 L274.2,381.1 L276.3,383.1 L278.3,385.1 L280.3,387.2 L282.3,389.2 L284.3,391.2 L286.3,393.2 L288.3,395.2 L290.3,397.1 L292.3,399.1 L294.3,401.1 L296.3,403.0 L298.3,405.0 L300.3,406.9 L302.4,408.9 L304.4,410.8 L306.4,412.7 L308.4,414.6 L310.4,416.5 L312.4,418.4 L314.4,420.3 L316.4,422.2 L318.4,424.1 L320.4,425.9 L322.4,427.8 L324.4,429.6 L326.4,431.5 L328.4,433.3 L330.5,435.1 L332.5,436.9 L334.5,438.7 L336.5,440.5 L338.5,442.3 L340.5,444.1 L342.5,445.8 L344.5,447.6 L346.5,449.3 L348.5,451.1 L350.5,452.8 L352.5,454.5 L354.5,456.2 L356.6,457.9 L358.6,459.6 L360.6,461.3 L362.6,463.0 L364.6,464.7 L366.6,466.3 L368.6,468.0 L370.6,469.6 L372.6,471.3 L374.6,472.9 L376.6,474.5 L378.6,476.1 L380.6,477.7 L382.7,479.3 L384.7,480.9 L386.7,482.5 L388.7,484.1 L390.7,485.7 L392.7,487.2 L394.7,488.8 L396.7,490.3 L398.7,491.9 L400.7,493.4 L402.7,494.9 L404.7,496.5 L406.7,498.0 L408.8,499.5 L410.8,501.0 L412.8,502.5 L414.8,504.0 L416.8,505.5 L418.8,507.0 L420.8,508.4 L422.8,509.9 L424.8,511.4 L426.8,512.8 L428.8,514.3 L430.8,515.7 L432.8,517.2 L434.8,518.6 L436.9,520.0 L438.9,521.5 L440.9,522.9 L442.9,524.3 L444.9,525.7 L446.9,527.1 L448.9,528.5 L450.9,529.9 L452.9,531.3 L454.9,532.7 L456.9,534.1 L458.9,535.5 L460.9,536.8 L463.0,538.2 L465.0,539.6 L467.0,540.9 L469.0,542.3 L471.0,543.7 L473.0,545.0 L475.0,546.4 L477.0,547.7 L479.0,549.0 L481.0,550.4 L483.0,551.7 L485.0,553.0 L487.0,554.4 L489.1,555.7 L491.1,557.0 L493.1,558.3 L495.1,559.6 L497.1,561.0 L499.1,562.3 L501.1,563.6 L503.1,564.9 L505.1,566.2 L507.1,567.5 L509.1,568.8 L511.1,570.1 L513.1,571.4 L515.2,572.7 L517.2,573.9 L519.2,575.2 L521.2,576.5 L523.2,577.8 L525.2,579.1 L527.2,580.3 L529.2,581.6 L531.2,582.9 L533.2,584.2 L535.2,585.4 L537.2,586.7 L539.2,587.9 L541.3,589.2 L543.3,590.5 L545.3,591.7 L547.3,593.0 L549.3,594.2 L551.3,595.4 L553.3,596.7 L555.3,597.9 L557.3,599.2 L559.3,600.4 L561.3,601.6 L563.3,602.9 L565.3,604.1 L567.3,605.3 L569.4,606.5 L571.4,607.8 L573.4,609.0 L575.4,610.2 L577.4,611.4 L579.4,612.6 L581.4,613.8 L583.4,615.0 L585.4,616.2 L587.4,617.4 L589.4,618.6 L591.4,619.8 L593.4,621.0 L595.5,622.2 L597.5,623.4 L599.5,624.6 L601.5,625.8 L603.5,627.0 L605.5,628.1 L607.5,629.3 L609.5,630.5 L611.5,631.7 L613.5,632.8 L615.5,634.0 L617.5,635.2 L619.5,636.3 L621.6,637.5 L623.6,638.7 L625.6,639.8 L627.6,641.0 L629.6,642.1 L631.6,643.3 L633.6,644.4 L635.6,645.6 L637.6,646.7 L639.6,647.8 L641.6,649.0 L643.6,650.1 L645.6,651.2 L647.7,652.4 L649.7,653.5 L651.7,654.6 L653.7,655.8 L655.7,656.9 L657.7,658.0 L659.7,659.1 L661.7,660.2 L663.7,661.3 L665.7,662.5 L667.7,663.6 L669.7,664.7 L671.7,665.8 L673.8,666.9 L675.8,668.0 L677.8,669.1 L679.8,670.2 L681.8,671.3 L683.8,672.4 L685.8,673.4 L687.8,674.5 L689.8,675.6 L691.8,676.7 L693.8,677.8 L695.8,678.8 L697.8,679.9 L699.8,681.0 L701.9,682.1 L703.9,683.1 L705.9,684.2 L707.9,685.3 L709.9,686.3 L711.9,687.4 L713.9,688.4 L715.9,689.5 L717.7,690.4" stroke="#00ff00" stroke-dasharray="2.70 8.10"/>
<path d="M228.1,487.1 L230.1,488.7 L232.1,490.2 L234.1,491.8 L236.1,493.3 L238.1,494.9 L240.1,496.5 L242.1,498.0 L244.1,499.6 L246.1,501.1 L248.1,502.6 L250.1,504.2 L252.1,505.7 L254.1,507.2 L256.1,508.8 L258.1,510.3 L260.2,511.8 L262.2,513.3 L264.2,514.8 L266.2,516.4 L268.2,517.9 L270.2,519.4 L272.2,520.9 L274.2,522.4 L276.2,523.9 L278.2,525.3 L280.2,526.8 L282.2,528.3 L284.2,529.8 L286.2,531.3 L288.2,532.7 L290.2,534.2 L292.2,535.7 L294.2,537.1 L296.2,538.6 L298.3,540.0 L300.3,541.5 L302.3,542.9 L304.3,544.4 L306.3,545.8 L308.3,547.3 L310.3,548.7 L312.3,550.1 L314.3,551.5 L316.3,552.9 L318.3,554.4 L320.3,555.8 L322.3,557.2 L324.3,558.6 L326.3,560.0 L328.3,561.3 L330.3,562.7 L332.3,564.1 L334.3,565.5 L336.4,566.9 L338.4,568.2 L340.4,569.6 L342.4,571.0 L344.4,572.3 L346.4,573.7 L348.4,575.0 L350.4,576.3 L352.4,577.7 L354.4,579.0 L356.4,580.3 L358.4,581.7 L360.4,583.0 L362.4,584.3 L364.4,585.6 L366.4,586.9 L368.4,588.2 L370.4,589.5 L372.4,590.8 L374.5,592.1 L376.5,593.3 L378.5,594.6 L380.5,595.9 L382.5,597.1 L384.5,598.4 L386.5,599.6 L388.5,600.9 L390.5,602.1 L392.5,603.4 L394.5,604.6 L396.5,605.8 L398.5,607.0 L400.5,608.2 L402.5,609.5 L404.5,610.7 L406.5,611.8 L408.5,613.0 L410.5,614.2 L412.6,615.4 L414.6,616.6 L416.6,617.7 L418.6,618.9 L420.6,620.1 L422.6,621.2 L424.6,622.4 L426.6,623.5 L428.6,624.6 L430.6,625.8 L432.6,626.9 L434.6,628.0 L436.6,629.1 L438.6,630.2 L440.6,631.3 L442.6,632.4 L444.6,633.5 L446.6,634.6 L448.6,635.6 L450.6,636.7 L452.7,637.8 L454.7,638.8 L456.7,639.9 L458.7,640.9 L460.7,641.9 L462.7,643.0 L464.7,644.0 L466.7,645.0 L468.7,646.0 L470.7,647.0 L472.7,648.0 L474.7,649.0 L476.7,650.0 L478.7,650.9 L480.7,651.9 L482.7,652.9 L484.7,653.8 L486.7,654.8 L488.7,655.7 L490.8,656.6 L492.8,657.6 L494.8,658.5 L496.8,659.4 L498.8,660.3 L500.8,661.3 L502.8,662.2 L504.8,663.1 L506.8,664.0 L508.8,664.8 L510.8,665.7 L512.8,666.6 L514.8,667.5 L516.8,668.4 L518.8,669.3 L520.8,670.1 L522.8,671.0 L524.8,671.9 L526.8,672.7 L528.9,673.6 L530.9,674.5 L532.9,675.3 L534.9,676.2 L536.9,677.0 L538.9,677.9 L540.9,678.8 L542.9,679.6 L544.9,680.5 L546.9,681.3 L548.9,682.2 L550.9,683.0 L552.9,683.9 L554.9,684.7 L556.9,685.6 L558.9,686.5 L560.9,687.3 L562.9,688.2 L564.9,689.0 L567.0,689.9 L568.2,690.4" stroke="#00ff00" stroke-dasharray="2.70 8.10 13.50 8.10"/>
<path d="M110.4,242.7 L112.5,242.7 L114.6,242.8 L116.7,242.9 L118.7,243.0 L120.8,243.1 L122.9,243.2 L125.0,243.3 L127.1,243.6 L129.2,243.8 L131.2,244.1 L133.3,244.3 L135.4,244.6 L137.5,244.9 L139.6,245.3 L141.7,245.7 L143.8,246.1 L145.8,246.5 L147.9,247.0 L150.0,247.5 L152.1,248.0 L154.2,248.6 L156.3,249.2" stroke="#ff0000" stroke-dasharray="2.70 8.10"/>
<path d="M89.2,276.0 L91.2,275.8 L93.3,275.6 L95.3,275.4 L97.3,275.2 L99.4,275.0 L101.4,274.9 L103.4,274.7 L105.5,274.5 L107.5,274.4 L109.5,274.3 L111.6,274.2 L113.6,274.1 L115.6,274.0 L117.6,273.9 L119.7,273.9 L121.7,273.9 L123.7,273.9 L125.8,273.9 L127.8,274.0 L129.8,274.1 L131.9,274.2 L133.9,274.4 L135.9,274.6 L138.0,274.9 L140.0,275.1 L142.0,275.5 L144.1,275.8 L146.1,276.2 L148.1,276.7 L150.2,277.2 L152.2,277.7 L154.2,278.3 L156.3,279.0" stroke="#ff0000" stroke-dasharray="2.70 8.10"/>
<path d="M89.2,305.6 L91.3,305.0 L93.3,304.4 L95.3,303.9 L97.4,303.3 L99.4,302.8 L101.4,302.3 L103.4,301.8 L105.5,301.3 L107.5,300.9 L109.5,300.5 L111.6,300.1 L113.6,299.7 L115.6,299.3 L117.7,299.0 L119.7,298.7 L121.7,298.4 L123.8,298.1 L125.8,297.9 L127.8,297.7 L129.9,297.6 L131.9,297.4 L133.9,297.3 L135.9,297.3 L138.0,297.2 L140.0,297.3 L142.0,297.3 L144.1,297.4 L146.1,297.5 L148.1,297.7 L150.2,297.9 L152.2,298.2 L154.2,298.5 L156.3,298.8" stroke="#ff0000" stroke-dasharray="13.50 8.10"/>
<path d="M89.2,469.7 L91.3,468.7 L93.3,467.7 L95.3,466.8 L97.4,465.9 L99.4,465.0 L101.4,464.1 L103.4,463.3 L105.5,462.5 L107.5,461.7 L109.5,461.0 L111.6,460.2 L113.6,459.5 L115.6,458.8 L117.7,458.2 L119.7,457.7 L121.7,457.2 L123.8,456.7 L125.8,456.2 L127.8,455.8 L129.9,455.4 L131.9,455.1 L133.9,454.7 L135.9,454.5 L138.0,454.2 L140.0,454.0 L142.0,453.8 L144.1,453.6 L146.1,453.4 L148.1,453.3 L150.2,453.1 L152.2,453.0 L154.2,452.9 L156.3,452.9" stroke="#ff0000" stroke-dasharray="2.70 8.10 13.50 8.10"/>
</g>
<g stroke-width="2.7" fill="none">
<path d="M683,50.6 H737" stroke="#ff0000"/>
<path d="M683,84.3 H737" stroke="#00ff00"/>
<path d="M683,117.5 H737" stroke="#0000ff"/>
</g>
<path d="M137.11,689.83v-8.9M137.11,16.22v8.9M184.98,689.83v-8.9M184.98,16.22v8.9M232.86,689.83v-8.9M232.86,16.22v8.9M280.74,689.83v-8.9M280.74,16.22v8.9M328.62,689.83v-17.9M328.62,16.22v17.9M376.49,689.83v-8.9M376.49,16.22v8.9M424.37,689.83v-8.9M424.37,16.22v8.9M472.25,689.83v-8.9M472.25,16.22v8.9M520.13,689.83v-8.9M520.13,16.22v8.9M568.00,689.83v-17.9M568.00,16.22v17.9M615.88,689.83v-8.9M615.88,16.22v8.9M663.76,689.83v-8.9M663.76,16.22v8.9M711.64,689.83v-8.9M711.64,16.22v8.9M759.51,689.83v-8.9M759.51,16.22v8.9M89.23,649.27h8.9M807.39,649.27h-8.9M89.23,625.55h8.9M807.39,625.55h-8.9M89.23,608.72h8.9M807.39,608.72h-8.9M89.23,595.66h8.9M807.39,595.66h-8.9M89.23,585.00h8.9M807.39,585.00h-8.9M89.23,575.98h8.9M807.39,575.98h-8.9M89.23,568.16h8.9M807.39,568.16h-8.9M89.23,561.27h8.9M807.39,561.27h-8.9M89.23,555.11h17.9M807.39,555.11h-17.9M89.23,514.55h8.9M807.39,514.55h-8.9M89.23,490.83h8.9M807.39,490.83h-8.9M89.23,474.00h8.9M807.39,474.00h-8.9M89.23,460.94h8.9M807.39,460.94h-8.9M89.23,450.27h8.9M807.39,450.27h-8.9M89.23,441.25h8.9M807.39,441.25h-8.9M89.23,433.44h8.9M807.39,433.44h-8.9M89.23,426.55h8.9M807.39,426.55h-8.9M89.23,420.39h17.9M807.39,420.39h-17.9M89.23,379.83h8.9M807.39,379.83h-8.9M89.23,356.11h8.9M807.39,356.11h-8.9M89.23,339.28h8.9M807.39,339.28h-8.9M89.23,326.22h8.9M807.39,326.22h-8.9M89.23,315.55h8.9M807.39,315.55h-8.9M89.23,306.53h8.9M807.39,306.53h-8.9M89.23,298.72h8.9M807.39,298.72h-8.9M89.23,291.83h8.9M807.39,291.83h-8.9M89.23,285.66h17.9M807.39,285.66h-17.9M89.23,245.11h8.9M807.39,245.11h-8.9M89.23,221.39h8.9M807.39,221.39h-8.9M89.23,204.55h8.9M807.39,204.55h-8.9M89.23,191.50h8.9M807.39,191.50h-8.9M89.23,180.83h8.9M807.39,180.83h-8.9M89.23,171.81h8.9M807.39,171.81h-8.9M89.23,164.00h8.9M807.39,164.00h-8.9M89.23,157.11h8.9M807.39,157.11h-8.9M89.23,150.94h17.9M807.39,150.94h-17.9M89.23,110.39h8.9M807.39,110.39h-8.9M89.23,86.66h8.9M807.39,86.66h-8.9M89.23,69.83h8.9M807.39,69.83h-8.9M89.23,56.78h8.9M807.39,56.78h-8.9M89.23,46.11h8.9M807.39,46.11h-8.9M89.23,37.09h8.9M807.39,37.09h-8.9M89.23,29.28h8.9M807.39,29.28h-8.9M89.23,22.38h8.9M807.39,22.38h-8.9" stroke="#000" stroke-width="1.65" fill="none"/>
<rect x="89.23" y="16.22" width="718.16" height="673.61" fill="none" stroke="#000" stroke-width="1.65"/>
<g font-family="'Liberation Sans', sans-serif" fill="#000">
<text x="81.0" y="14.3" font-size="18.0" text-anchor="end">4</text>
<text x="69.9" y="29.5" font-size="25.3" text-anchor="end">10</text>
<text x="81.0" y="149.1" font-size="18.0" text-anchor="end">3</text>
<text x="69.9" y="164.3" font-size="25.3" text-anchor="end">10</text>
<text x="81.0" y="284.1" font-size="18.0" text-anchor="end">2</text>
<text x="69.9" y="299.3" font-size="25.3" text-anchor="end">10</text>
<text x="83.0" y="418.5" font-size="18.0" text-anchor="end">1</text>
<text x="74.1" y="433.7" font-size="25.3" text-anchor="end">10</text>
<text x="81.0" y="554.1" font-size="18.0" text-anchor="end">0</text>
<text x="69.9" y="569.3" font-size="25.3" text-anchor="end">10</text>
<text x="83.7" y="688.7" font-size="18.0" text-anchor="end">-1</text>
<text x="68.2" y="703.8" font-size="25.3" text-anchor="end">10</text>
<text x="89.8" y="717.4" font-size="25.3" text-anchor="middle">100</text>
<text x="329.2" y="717.4" font-size="25.3" text-anchor="middle">150</text>
<text x="568.6" y="717.4" font-size="25.3" text-anchor="middle">200</text>
<text x="808.0" y="717.4" font-size="25.3" text-anchor="middle">250</text>
<text x="134.9" y="60.5" font-size="25.6">Tevatron,<tspan font-family="'Liberation Serif', serif" font-size="29" dx="5.8">√</tspan><tspan dx="-0.8">s = 1.96 TeV</tspan></text>
<text x="133.9" y="95.5" font-size="25.25">gluophobic Higgs, tan<tspan font-family="'Liberation Serif', serif">β</tspan> = 5</text>
<text x="750.3" y="58.2" font-size="20.4">h</text>
<text x="750.3" y="91.6" font-size="20.4">H</text>
<text x="750.3" y="125.3" font-size="20.4">A</text>
<text transform="translate(122.2,180.1) scale(1.0,1)" font-size="25.6">gg</text>
<text x="150.50" y="180.50" font-family="'Liberation Serif', serif" font-size="25.6" stroke="#000" stroke-width="0.3">Φ</text>
<text transform="translate(152.0,278.2) scale(0.966,1)" font-size="25.6">W/Z</text>
<text x="197.20" y="277.60" font-family="'Liberation Serif', serif" font-size="25.6" stroke="#000" stroke-width="0.3">Φ</text>
<text transform="translate(103.3,406.0) scale(1.0,1)" font-size="25.6">qq</text>
<text x="132.20" y="405.45" font-family="'Liberation Serif', serif" font-size="25.6" stroke="#000" stroke-width="0.3">Φ</text>
<text transform="translate(103.7,555.4) scale(0.96,1)" font-size="25.6">tt</text>
<text x="117.50" y="555.45" font-family="'Liberation Serif', serif" font-size="25.6" stroke="#000" stroke-width="0.3">Φ</text>
<text transform="translate(568.3,377.3) scale(0.96,1)" font-size="25.6">(bb)</text>
<text x="612.40" y="377.00" font-family="'Liberation Serif', serif" font-size="25.6" stroke="#000" stroke-width="0.3">Φ</text>
<text transform="translate(24.9,555.6) rotate(-90)" font-family="'Liberation Serif', serif" font-size="32.6" stroke="#000" stroke-width="0.3">Φ</text>
<text transform="translate(24.9,524.3) rotate(-90)" font-family="'Liberation Sans', sans-serif" font-size="30.2">production</text>
<text transform="translate(24.9,375.3) rotate(-90)" font-family="'Liberation Sans', sans-serif" font-size="30.2">cross</text>
<text transform="translate(24.9,294.4) rotate(-90)" font-family="'Liberation Sans', sans-serif" font-size="30.2">section</text>
<text transform="translate(24.9,191.0) rotate(-90)" font-family="'Liberation Sans', sans-serif" font-size="30.2">[fb]</text>
<text x="385.8" y="748.7" font-size="30.6">M</text>
<text transform="translate(411.6,760.3) scale(1.16,1.03)" font-family="'Liberation Serif', serif" font-size="18.6" stroke="#000" stroke-width="0.25">Φ</text>
<text x="435.3" y="748.7" font-size="30.2">[GeV]</text>
</g>
</svg>
</body></html>
